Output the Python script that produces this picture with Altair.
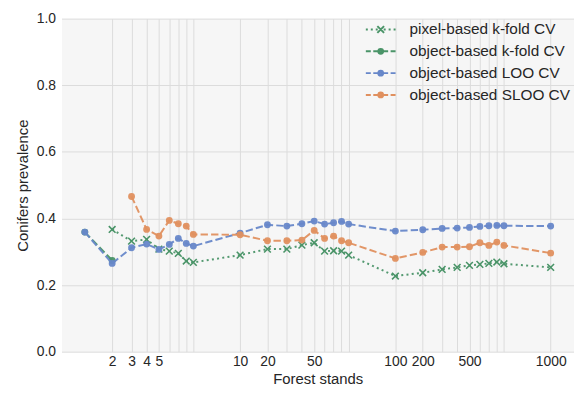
import altair as alt
import pandas as pd

# ---------------- data ----------------
series_names = ["pixel-based k-fold CV", "object-based k-fold CV",
                "object-based LOO CV", "object-based SLOO CV"]
series_colors = ["#4a9468", "#4a9468", "#6787c9", "#e0905f"]

common_x = [2, 2.5, 3, 3.5, 4, 4.5, 5, 10, 15, 20, 25, 30, 35, 40, 45, 50,
            100, 150, 200, 250, 300, 350, 400, 450, 500, 1000]

pixel_x = [1.5] + common_x
pixel_y = [0.367, 0.332, 0.337, 0.308, 0.302, 0.295, 0.272, 0.268, 0.290,
           0.308, 0.308, 0.320, 0.327, 0.302, 0.303, 0.302, 0.290,
           0.227, 0.237, 0.247, 0.253, 0.259, 0.262, 0.265, 0.269, 0.264, 0.253]

objk_x = [1, 1.5]
objk_y = [0.359, 0.274]

loo_x = [1, 1.5] + common_x
loo_y = [0.359, 0.265, 0.312, 0.323, 0.307, 0.322, 0.340, 0.325, 0.317, 0.356,
         0.381, 0.377, 0.384, 0.392, 0.383, 0.387, 0.391, 0.383,
         0.362, 0.366, 0.370, 0.371, 0.373, 0.376, 0.378, 0.379, 0.378, 0.377]

sloo_x = common_x
sloo_y = [0.466, 0.367, 0.347, 0.394, 0.384, 0.377, 0.352, 0.351,
          0.333, 0.333, 0.335, 0.364, 0.340, 0.347, 0.333, 0.327,
          0.280, 0.298, 0.314, 0.314, 0.315, 0.327, 0.319, 0.329, 0.319, 0.296]

grid_positions = pixel_x
tick_positions = [1.5, 2, 2.5, 3, 10, 15, 30, 100, 150, 300, 1000]
tick_labels = ["2", "3", "4", "5", "10", "20", "50", "100", "200", "500", "1000"]
y_ticks = [0.0, 0.2, 0.4, 0.6, 0.8, 1.0]

series_x = [pixel_x, objk_x, loo_x, sloo_x]
series_y = [pixel_y, objk_y, loo_y, sloo_y]

rows = []
for name, xs, ys in zip(series_names, series_x, series_y):
    for xv, yv in zip(xs, ys):
        rows.append({"x": xv, "y": yv, "series": name})
df = pd.DataFrame(rows)

# ---------------- styles ----------------
label_expr = ""
for p, t in zip(tick_positions, tick_labels):
    label_expr += f"datum.value == {p} ? '{t}' : "
label_expr += "''"

TEXT = "#262626"
GRID = "#dcdcdc"

xscale = alt.Scale(type="log", domain=[0.708, 1413], nice=False)
yscale = alt.Scale(domain=[0, 1], nice=False, zero=False)

xaxis = alt.Axis(values=grid_positions, labelExpr=label_expr, grid=True,
                 gridColor=GRID, gridWidth=1, ticks=False, domain=False,
                 labelFontSize=14, labelColor=TEXT, labelPadding=3,
                 labelFlush=False, labelOverlap=False,
                 title="Forest stands", titleFontSize=15, titleColor=TEXT,
                 titleFontWeight="normal", titlePadding=3)
yaxis = alt.Axis(values=y_ticks, format=".1f", grid=True, gridColor=GRID,
                 gridWidth=1, ticks=False, domain=False, labelFontSize=14,
                 labelColor=TEXT, labelPadding=6,
                 title="Conifers prevalence", titleFontSize=15,
                 titleColor=TEXT, titleFontWeight="normal", titlePadding=6)

X = alt.X("x:Q", scale=xscale, axis=xaxis)
Y = alt.Y("y:Q", scale=yscale, axis=yaxis)

dashed = [7.4, 3.2]
dotted = [2, 3.3]
series_dash = [dotted, dashed, dashed, dashed]

xmark = "M-1,-1L1,1M-1,1L1,-1"

layers = []
for i, name in enumerate(series_names):
    base = alt.Chart(df).transform_filter(alt.datum.series == name)
    line = base.mark_line(color=series_colors[i], strokeDash=series_dash[i],
                          strokeWidth=2, opacity=0.95).encode(x=X, y=Y)
    if i == 0:
        pts = base.mark_point(shape=xmark, filled=False, size=46,
                              strokeWidth=1.6, color=series_colors[i],
                              opacity=1).encode(x=X, y=Y)
    else:
        pts = base.mark_point(shape="circle", filled=True, size=48,
                              color=series_colors[i], opacity=0.95).encode(x=X, y=Y)
    layers += [line, pts]

# ---- legend symbols (custom paths: line pieces + marker) ----
U = 15.0  # px per unit for symbolSize 900


def seg(x0, x1):
    return f"M{x0/U:.4f},0L{x1/U:.4f},0"


def circ(r):
    return (f"M{-r/U:.4f},0a{r/U:.4f},{r/U:.4f} 0 1,0 {2*r/U:.4f},0"
            f"a{r/U:.4f},{r/U:.4f} 0 1,0 {-2*r/U:.4f},0")


dot_path = "".join(seg(a, a + 2) for a in [-15, -10, -5, 3, 8, 13])
a = 3.4 / U
dot_path += f"M{-a:.4f},{-a:.4f}L{a:.4f},{a:.4f}M{-a:.4f},{a:.4f}L{a:.4f},{-a:.4f}"
dash_path = "".join(seg(p, q) for p, q in [(-15, -10), (-7.5, -3), (3, 7.5), (10, 15)])
dash_path += circ(2.4) + circ(0.9)
legend_shapes = [dot_path, dash_path, dash_path, dash_path]

leg = alt.Legend(title=None, orient="none", legendX=306, legendY=0,
                 symbolSize=900, symbolStrokeWidth=2, labelFontSize=15.5,
                 labelColor=TEXT, rowPadding=0, clipHeight=22,
                 labelOffset=13, padding=0, labelLimit=400)

legend_layer = alt.Chart(df).transform_filter("false").mark_point(
    filled=False, opacity=1, strokeWidth=2).encode(
    x=X, y=Y,
    color=alt.Color("series:N",
                    scale=alt.Scale(domain=series_names, range=series_colors),
                    legend=leg),
    shape=alt.Shape("series:N",
                    scale=alt.Scale(domain=series_names, range=legend_shapes),
                    legend=leg),
)

chart = alt.layer(legend_layer, *layers).properties(
    width=517, height=336,
    padding={"left": 54, "top": 9, "right": 0, "bottom": 40},
    autosize=alt.AutoSizeParams(type="none"),
).configure(font="Liberation Sans").configure_view(
    fill="#f6f6f6", stroke="transparent")

chart.save("out.html", embed_options={"renderer": "svg", "actions": False})
